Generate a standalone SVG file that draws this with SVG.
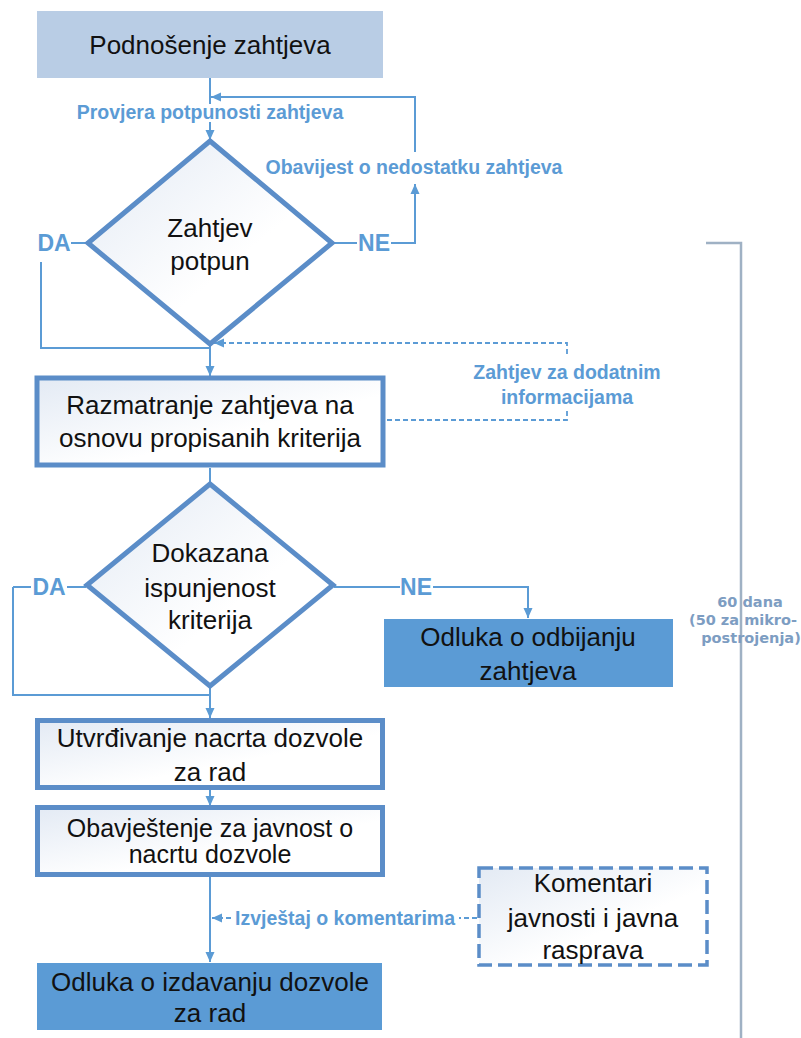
<svg xmlns="http://www.w3.org/2000/svg" width="801" height="1038" viewBox="0 0 801 1038">
<defs>
<linearGradient id="lg" x1="0" y1="0" x2="1" y2="1">
<stop offset="0" stop-color="#e3eaf4"/>
<stop offset="0.6" stop-color="#ffffff"/>
</linearGradient>
<marker id="ah" viewBox="0 0 10 10" refX="10" refY="5" markerWidth="10" markerHeight="10" markerUnits="userSpaceOnUse" orient="auto">
<path d="M0,0.5 L10,5 L0,9.5 Z" fill="#5b9bd5"/>
</marker>
<style>
.node{fill:url(#lg);stroke:#5b8dc8;stroke-width:5}
.dec{fill:#5b9bd5}
.top{fill:#b9cde5}
.t{font-family:"Liberation Sans",Arial,sans-serif;font-size:26px;fill:#111;text-anchor:middle}
.lbl{font-family:"Liberation Sans",Arial,sans-serif;font-size:19.5px;font-weight:bold;fill:#5b9bd5;text-anchor:middle}
.yn{font-family:"Liberation Sans",Arial,sans-serif;font-size:23px;font-weight:bold;fill:#5b9bd5;text-anchor:middle}
.c{fill:none;stroke:#5b9bd5;stroke-width:2}
.cd{fill:none;stroke:#5b9bd5;stroke-width:1.8;stroke-dasharray:5 3}
.tl{fill:none;stroke:#9fb1c4;stroke-width:2.5}
.tlt{font-family:"DejaVu Sans",Verdana,sans-serif;font-size:14.5px;font-weight:bold;fill:#7d9dc2;text-anchor:middle}
</style>
</defs>
<rect width="801" height="1038" fill="#ffffff"/>

<g id="connectors">
<path class="c" d="M210,78 V104"/>
<path class="c" d="M210,122 V140" marker-end="url(#ah)"/>
<path class="c" d="M333,243 H357"/>
<path class="c" d="M391,243 H415 V184" marker-end="url(#ah)"/>
<path class="c" d="M415,152 V97 H211" marker-end="url(#ah)"/>
<path class="c" d="M71,243 H88"/>
<path class="c" d="M41,262 V348 H210"/>
<path class="c" d="M210,343 V376" marker-end="url(#ah)"/>
<path class="cd" d="M387,420 H567 V410"/>
<path class="cd" d="M567,354 V343 H214" marker-end="url(#ah)"/>
<path class="c" d="M210,468 V483"/>
<path class="c" d="M13,587 H31"/>
<path class="c" d="M67,587 H86"/>
<path class="c" d="M13,587 V695 H210"/>
<path class="c" d="M210,685 V718" marker-end="url(#ah)"/>
<path class="c" d="M334,587 H400"/>
<path class="c" d="M433,587 H528 V618" marker-end="url(#ah)"/>
<path class="c" d="M210,790 V806" marker-end="url(#ah)"/>
<path class="c" d="M210,877 V962" marker-end="url(#ah)"/>
<path class="cd" d="M477,918 H459"/>
<path class="cd" d="M231,918 H212" marker-end="url(#ah)"/>
<text class="lbl" x="210" y="119">Provjera potpunosti zahtjeva</text>
<text class="lbl" x="414" y="174">Obavijest o nedostatku zahtjeva</text>
<text class="yn" x="54" y="251">DA</text>
<text class="yn" x="374" y="251">NE</text>
<text class="lbl" x="567" y="379">Zahtjev za dodatnim</text>
<text class="lbl" x="567" y="404">informacijama</text>
<text class="yn" x="49" y="595">DA</text>
<text class="yn" x="416" y="595">NE</text>
<text class="lbl" x="345" y="925">Izvještaj o komentarima</text>
</g>

<g id="timeline">
<path class="tl" d="M706,243 H741 V1038"/>
<text class="tlt" x="750" y="607">60 dana</text>
<text class="tlt" x="743" y="625">(50 za mikro-</text>
<text class="tlt" x="751" y="643">postrojenja)</text>
</g>

<g id="n1">
<rect class="top" x="37" y="11" width="346" height="67"/>
<text class="t" x="210" y="54">Podnošenje zahtjeva</text>
</g>

<g id="d1">
<polygon class="node" points="210,141 332,243 210,344 88,243"/>
<text class="t" x="210" y="237">Zahtjev</text>
<text class="t" x="210" y="270">potpun</text>
</g>

<g id="n2">
<rect class="node" x="37" y="378" width="346" height="87"/>
<text class="t" x="210" y="414">Razmatranje zahtjeva na</text>
<text class="t" x="210" y="447">osnovu propisanih kriterija</text>
</g>

<g id="d2">
<polygon class="node" points="210,484 333,585 210,686 87,585"/>
<text class="t" x="210" y="562">Dokazana</text>
<text class="t" x="210" y="597">ispunjenost</text>
<text class="t" x="210" y="629">kriterija</text>
</g>

<g id="n3">
<rect class="dec" x="384" y="619" width="289" height="68"/>
<text class="t" x="528" y="646">Odluka o odbijanju</text>
<text class="t" x="528" y="680">zahtjeva</text>
</g>

<g id="n4">
<rect class="node" x="37.5" y="720.5" width="345" height="67"/>
<text class="t" x="210" y="747">Utvrđivanje nacrta dozvole</text>
<text class="t" x="210" y="781">za rad</text>
</g>

<g id="n5">
<rect class="node" x="37.5" y="807.5" width="345" height="67"/>
<text class="t" x="210" y="837" style="font-size:25px">Obavještenje za javnost o</text>
<text class="t" x="210" y="863" style="font-size:25px">nacrtu dozvole</text>
</g>

<g id="n6">
<rect x="479" y="868" width="228" height="97" fill="url(#lg)" stroke="#5b8dc8" stroke-width="3.5" stroke-dasharray="14 6"/>
<text class="t" x="593" y="892">Komentari</text>
<text class="t" x="593" y="927">javnosti i javna</text>
<text class="t" x="593" y="959">rasprava</text>
</g>

<g id="n7">
<rect class="dec" x="37" y="963" width="345" height="67"/>
<text class="t" x="210" y="991">Odluka o izdavanju dozvole</text>
<text class="t" x="210" y="1022">za rad</text>
</g>
</svg>
